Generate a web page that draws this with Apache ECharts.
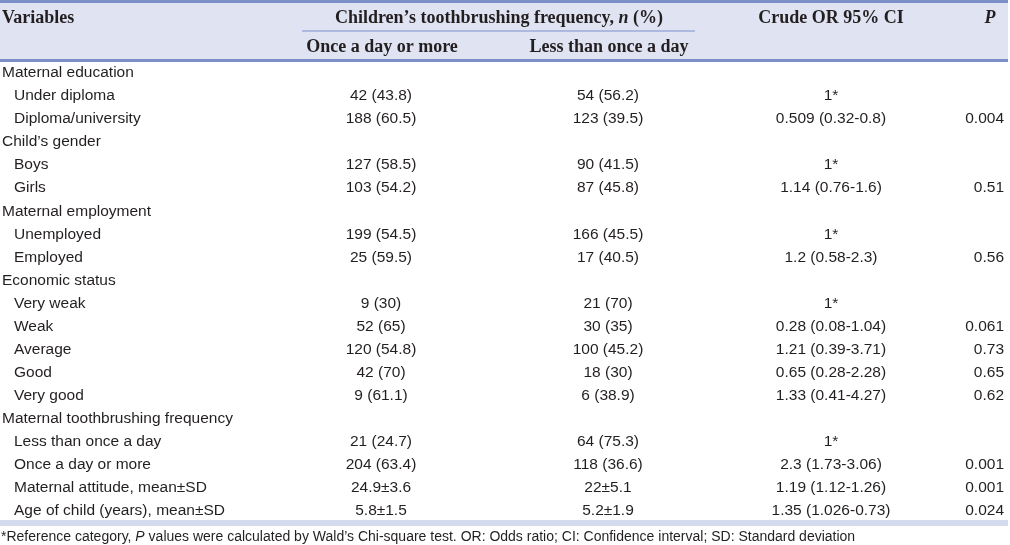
<!DOCTYPE html>
<html>
<head>
<meta charset="utf-8">
<script src="https://cdn.jsdelivr.net/npm/echarts@6/dist/echarts.min.js"></script>
<style>
html,body{margin:0;padding:0;background:#fff;}
#chart{width:1010px;height:545px;}
</style>
</head>
<body>
<div id="chart"></div>
<script>
// ---- Table data ----
const variables = [
  "Maternal education", "Under diploma", "Diploma/university",
  "Child’s gender", "Boys", "Girls",
  "Maternal employment", "Unemployed", "Employed",
  "Economic status", "Very weak", "Weak", "Average", "Good", "Very good",
  "Maternal toothbrushing frequency", "Less than once a day", "Once a day or more",
  "Maternal attitude, mean±SD", "Age of child (years), mean±SD"
];
const onceADayOrMore = [
  "", "42 (43.8)", "188 (60.5)",
  "", "127 (58.5)", "103 (54.2)",
  "", "199 (54.5)", "25 (59.5)",
  "", "9 (30)", "52 (65)", "120 (54.8)", "42 (70)", "9 (61.1)",
  "", "21 (24.7)", "204 (63.4)",
  "24.9±3.6", "5.8±1.5"
];
const lessThanOnceADay = [
  "", "54 (56.2)", "123 (39.5)",
  "", "90 (41.5)", "87 (45.8)",
  "", "166 (45.5)", "17 (40.5)",
  "", "21 (70)", "30 (35)", "100 (45.2)", "18 (30)", "6 (38.9)",
  "", "64 (75.3)", "118 (36.6)",
  "22±5.1", "5.2±1.9"
];
const crudeOR = [
  "", "1*", "0.509 (0.32-0.8)",
  "", "1*", "1.14 (0.76-1.6)",
  "", "1*", "1.2 (0.58-2.3)",
  "", "1*", "0.28 (0.08-1.04)", "1.21 (0.39-3.71)", "0.65 (0.28-2.28)", "1.33 (0.41-4.27)",
  "", "1*", "2.3 (1.73-3.06)",
  "1.19 (1.12-1.26)", "1.35 (1.026-0.73)"
];
const pValues = [
  "", "", "0.004",
  "", "", "0.51",
  "", "", "0.56",
  "", "", "0.061", "0.73", "0.65", "0.62",
  "", "", "0.001",
  "0.001", "0.024"
];
const headerVariables = "Variables";
const headerGroup = "Children’s toothbrushing frequency, ";
const headerOnce = "Once a day or more";
const headerLess = "Less than once a day";
const headerOR = "Crude OR 95% CI";
const headerP = "P";
const footnoteParts = ["*Reference category, ", "P", " values were calculated by Wald’s Chi-square test. OR: Odds ratio; CI: Confidence interval; SD: Standard deviation"];

// ---- Styling ----
const TEXT = '#231f20';
const BAND = '#dfe3f2';
const RULE = '#7c8fc9';
const BODY_FONT = '15.5px "Liberation Sans", Arial, sans-serif';
const HEAD_FONT = 'bold 18px "Liberation Serif", "Times New Roman", serif';
const HEAD_ITALIC = 'bold italic 18px "Liberation Serif", "Times New Roman", serif';
const NOTE_SIZE = '14px "Liberation Sans", Arial, sans-serif';

const rowIdx = variables.map((_, i) => i);
const isGroup = variables.map((_, i) => onceADayOrMore[i] === "" && crudeOR[i] === "");

function textColumn(values, anchor, align) {
  return {
    type: 'custom',
    coordinateSystem: 'cartesian2d',
    clip: false,
    silent: true,
    data: rowIdx.map(i => [anchor(i), i]),
    encode: { x: 0, y: 1 },
    renderItem: function (params, api) {
      const i = params.dataIndex;
      const txt = values[i];
      if (!txt) return null;
      const p = api.coord([api.value(0), i]);
      return {
        type: 'text',
        x: p[0], y: p[1],
        style: { text: txt, fill: TEXT, font: BODY_FONT, align: align, verticalAlign: 'middle' }
      };
    }
  };
}

const chart = echarts.init(document.getElementById('chart'), null, { renderer: 'canvas' });
chart.setOption({
  animation: false,
  backgroundColor: '#ffffff',
  grid: { left: 0, right: 0, top: 61.5, bottom: 22.8, containLabel: false },
  xAxis: { type: 'value', min: 0, max: 1010, show: false },
  yAxis: { type: 'category', data: variables, inverse: true, show: false, boundaryGap: true },
  series: [
    textColumn(variables, i => (isGroup[i] ? 2 : 14), 'left'),
    textColumn(onceADayOrMore, () => 381, 'center'),
    textColumn(lessThanOnceADay, () => 608, 'center'),
    textColumn(crudeOR, () => 831, 'center'),
    textColumn(pValues, () => 1004, 'right')
  ],
  graphic: [
    { type: 'rect', z: -1, shape: { x: 0, y: 0, width: 1008, height: 61 }, style: { fill: BAND } },
    { type: 'rect', shape: { x: 0, y: 0, width: 1008, height: 3 }, style: { fill: RULE } },
    { type: 'rect', shape: { x: 0, y: 59, width: 1008, height: 3 }, style: { fill: RULE } },
    { type: 'rect', shape: { x: 302, y: 30.5, width: 393, height: 1 }, style: { fill: RULE } },
    { type: 'rect', shape: { x: 0, y: 520, width: 1008, height: 6 }, style: { fill: '#d5dbef' } },
    { type: 'text', x: 2, y: 18, style: { text: headerVariables, font: HEAD_FONT, fill: TEXT, align: 'left', verticalAlign: 'middle' } },
    { type: 'text', x: 499, y: 18, style: {
        text: '{b|' + headerGroup + '}{i|n}{b| (%)}', align: 'center', verticalAlign: 'middle',
        rich: {
          b: { font: HEAD_FONT, fill: TEXT },
          i: { font: HEAD_ITALIC, fill: TEXT }
        } } },
    { type: 'text', x: 382, y: 47, style: { text: headerOnce, font: HEAD_FONT, fill: TEXT, align: 'center', verticalAlign: 'middle' } },
    { type: 'text', x: 609, y: 47, style: { text: headerLess, font: HEAD_FONT, fill: TEXT, align: 'center', verticalAlign: 'middle' } },
    { type: 'text', x: 831, y: 18, style: { text: headerOR, font: HEAD_FONT, fill: TEXT, align: 'center', verticalAlign: 'middle' } },
    { type: 'text', x: 990, y: 18, style: { text: headerP, font: HEAD_ITALIC, fill: TEXT, align: 'center', verticalAlign: 'middle' } },
    { type: 'text', x: 1, y: 537.5, style: {
        text: '{r|' + footnoteParts[0] + '}{i|' + footnoteParts[1] + '}{r|' + footnoteParts[2] + '}',
        align: 'left', verticalAlign: 'middle',
        rich: {
          r: { font: NOTE_SIZE, fill: TEXT },
          i: { font: 'italic ' + NOTE_SIZE, fill: TEXT }
        } } }
  ]
});
</script>
</body>
</html>
